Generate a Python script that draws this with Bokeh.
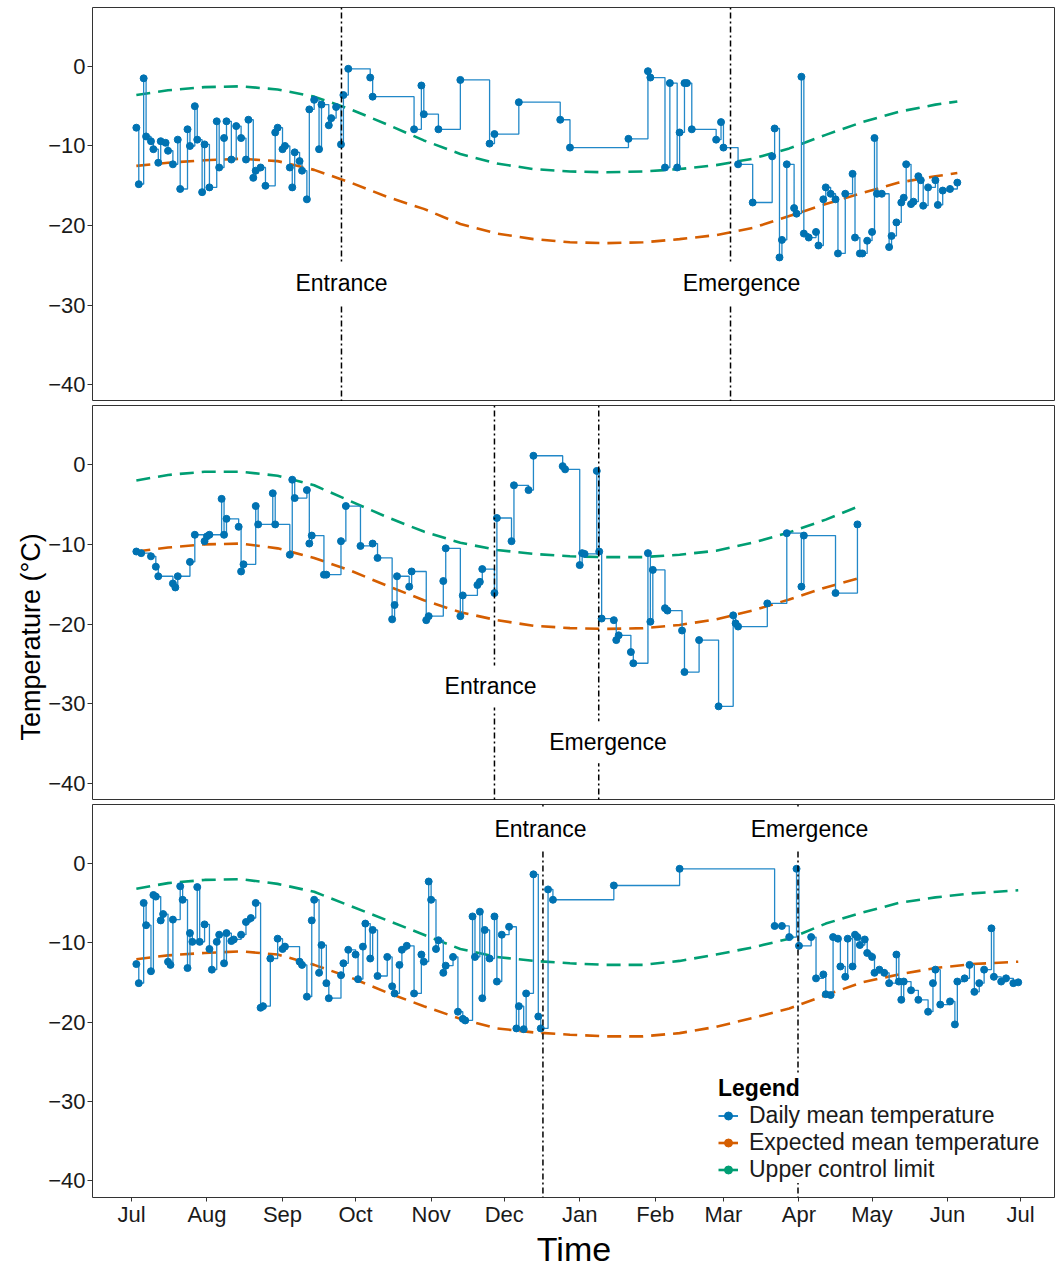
from bokeh.plotting import figure
from bokeh.models import Range1d, FixedTicker, Span, Label, Legend, LegendItem, ColumnDataSource, Title
from bokeh.layouts import column
from bokeh.embed import file_html
from bokeh.resources import INLINE

# ---------------- data ----------------
month_days = [0, 31, 62, 92, 123, 153, 184, 215, 243, 274, 304, 335, 365]
month_labels = ["Jul", "Aug", "Sep", "Oct", "Nov", "Dec", "Jan", "Feb", "Mar", "Apr", "May", "Jun", "Jul"]
y_ticks = [-40, -30, -20, -10, 0]
y_tick_labels = ["\u221240", "\u221230", "\u221220", "\u221210", "0"]

# (day since 1 Jul, daily mean temperature)
p1_obs = [(2,-7.7),(3,-14.8),(5,-1.5),(6,-8.8),(8,-9.4),(9,-10.4),(11,-12.1),(12,-9.4),(14,-9.6),(15,-10.6),
          (17,-12.3),(19,-9.2),(20,-15.4),(23,-7.9),(24,-10.0),(26,-5.0),(27,-9.2),(29,-15.8),(30,-9.8),(32,-15.2),
          (35,-6.9),(36,-12.7),(38,-9.0),(39,-6.9),(41,-11.7),(43,-7.5),(45,-9.0),(47,-11.7),(48,-6.7),(50,-14.0),
          (51,-13.1),(53,-12.7),(55,-15.0),(59,-8.3),(60,-7.7),(62,-10.4),(63,-10.0),(65,-12.7),(66,-15.2),(67,-10.8),
          (69,-11.9),(70,-13.1),(72,-16.7),(73,-5.4),(75,-4.2),(77,-10.4),(78,-4.8),(81,-7.4),(82,-6.5),(84,-5.1),
          (86,-9.8),(87,-3.6),(89,-0.3),(98,-1.4),(99,-3.8),(116,-7.9),(119,-2.4),(120,-6.0),(126,-7.9),(135,-1.7),
          (147,-9.7),(149,-8.5),(159,-4.5),(176,-6.7),(180,-10.2),(204,-9.1),(212,-0.6),(213,-1.4),(219,-12.7),(221,-2.1),
          (224,-12.7),(225,-8.3),(227,-2.1),(228,-2.1),(230,-7.9),(240,-9.2),(242,-7.0),(243,-10.2),(249,-12.3),(255,-17.1),
          (263,-11.3),(264,-7.8),(266,-24.0),(267,-21.8),(269,-12.3),(272,-17.8),(273,-18.5),(275,-1.3),(276,-21.0),(278,-21.5),
          (281,-20.8),(282,-22.5),(284,-16.7),(285,-15.2),(287,-16.0),(289,-16.7),(290,-23.5),(293,-16.0),(296,-13.5),(297,-21.5),
          (299,-23.5),(300,-23.5),(302,-21.9),(304,-20.8),(305,-9.0),(306,-16.0),(308,-16.0),(311,-22.7),(312,-21.3),(314,-19.6),
          (316,-17.1),(317,-16.5),(318,-12.3),(320,-17.3),(321,-17.0),(323,-13.8),(324,-14.3),(325,-17.5),(327,-15.2),(330,-14.3),
          (331,-17.4),(333,-15.6),(336,-15.4),(339,-14.6)]

p2_obs = [(2,-10.9),(4,-11.1),(8,-11.5),(10,-12.8),(11,-14.0),(17,-14.9),(18,-15.4),(19,-14.0),(24,-12.2),(26,-8.8),
          (30,-9.6),(31,-9.0),(32,-8.8),(37,-4.3),(38,-8.8),(39,-6.8),(44,-7.8),(45,-13.4),(46,-12.5),(51,-5.2),
          (52,-7.5),(58,-3.6),(59,-7.5),(65,-11.3),(66,-1.9),(67,-4.2),(72,-3.2),(73,-9.9),(74,-8.9),(79,-13.8),
          (80,-13.8),(86,-9.6),(88,-5.2),(94,-10.2),(99,-9.9),(101,-11.7),(107,-19.4),(108,-17.6),(109,-14.0),(114,-15.3),
          (115,-13.4),(121,-19.5),(122,-19.0),(128,-14.6),(129,-10.5),(135,-19.0),(136,-16.4),(142,-15.1),(143,-14.7),(144,-13.1),
          (149,-16.1),(150,-6.7),(156,-9.6),(157,-2.6),(163,-3.2),(165,1.1),(177,-0.2),(178,-0.6),(184,-12.6),(185,-11.1),
          (186,-11.2),(191,-0.8),(192,-10.9),(193,-19.3),(198,-19.5),(199,-22.0),(200,-21.4),(205,-23.5),(206,-24.9),(212,-11.1),
          (213,-19.7),(214,-13.2),(219,-18.0),(220,-18.3),(226,-20.8),(227,-26.0),(233,-22.0),(241,-30.3),(247,-18.9),(248,-19.9),
          (249,-20.3),(261,-17.4),(269,-8.6),(275,-15.3),(276,-8.9),(289,-16.1),(298,-7.5)]

p3_obs = [(2,-12.7),(3,-15.1),(5,-5.0),(6,-7.8),(8,-13.6),(9,-4.0),(10,-4.2),(12,-7.2),(13,-6.4),(15,-12.4),
          (16,-12.8),(17,-7.1),(20,-2.9),(21,-4.6),(23,-13.2),(24,-8.8),(25,-9.9),(27,-3.0),(28,-9.9),(30,-7.7),
          (32,-10.8),(33,-13.4),(35,-9.9),(36,-9.0),(38,-12.6),(39,-8.8),(41,-9.8),(42,-9.6),(45,-9.0),(47,-7.4),
          (49,-6.9),(51,-5.0),(53,-18.2),(54,-18.0),(57,-12.0),(60,-9.5),(62,-10.8),(63,-10.5),(69,-12.4),(70,-12.8),
          (72,-16.8),(74,-7.2),(75,-4.6),(77,-13.8),(78,-10.3),(80,-15.1),(81,-17.0),(86,-14.1),(87,-12.6),(89,-10.9),
          (92,-11.5),(93,-14.6),(95,-10.5),(96,-7.6),(98,-12.0),(99,-8.4),(101,-14.2),(105,-11.8),(107,-15.5),(108,-16.4),
          (110,-12.8),(111,-10.9),(113,-10.4),(116,-16.4),(119,-11.5),(120,-12.4),(122,-2.3),(123,-4.6),(125,-10.8),(126,-9.7),
          (128,-13.8),(129,-12.9),(132,-11.8),(134,-18.7),(136,-19.6),(137,-19.8),(140,-6.7),(141,-11.8),(143,-6.1),(144,-17.0),
          (145,-8.4),(147,-12.0),(149,-6.7),(150,-14.9),(152,-9.0),(155,-8.0),(158,-20.8),(159,-18.0),(161,-20.9),(162,-16.4),
          (165,-1.4),(167,-19.3),(168,-20.8),(171,-3.3),(173,-4.6),(198,-2.8),(225,-0.7),(264,-7.9),(267,-7.9),(270,-9.3),
          (273,-0.7),(274,-10.4),(279,-9.3),(281,-14.5),(284,-14.0),(285,-16.5),(287,-16.6),(288,-9.3),(290,-9.5),(291,-13.0),
          (293,-14.3),(294,-9.5),(296,-13.0),(297,-9.0),(298,-9.3),(299,-10.3),(301,-9.6),(302,-11.3),(304,-11.8),(305,-13.8),
          (307,-13.4),(309,-13.8),(311,-15.1),(314,-11.5),(315,-14.9),(316,-17.2),(317,-14.9),(320,-16.0),(323,-17.2),(327,-18.7),
          (329,-15.1),(330,-13.4),(332,-17.8),(336,-17.4),(338,-20.3),(339,-14.9),(342,-14.5),(344,-12.8),(346,-16.2),(348,-15.1),
          (350,-13.4),(353,-8.2),(354,-14.3),(357,-14.9),(359,-14.5),(362,-15.1),(364,-15.0)]

p1_curve_days = [2, 15, 30, 45, 60, 75, 90, 105, 120, 135, 150, 165, 180, 195, 210, 225, 240, 255, 270, 285, 300, 315, 330, 339]
p1_expected = [-12.5, -12.1, -11.8, -11.6, -11.9, -13.0, -14.6, -16.4, -17.9, -19.8, -21.0, -21.7, -22.1, -22.2, -22.1, -21.7,
               -21.2, -20.3, -18.8, -17.3, -15.9, -14.6, -13.8, -13.4]
p1_ucl = [-3.6, -3.0, -2.6, -2.5, -2.9, -3.8, -5.4, -7.3, -9.3, -11.0, -12.2, -12.9, -13.2, -13.3, -13.2, -12.9,
          -12.4, -11.6, -10.3, -8.6, -7.0, -5.7, -4.8, -4.4]

p2_curve_days = [2, 15, 30, 45, 60, 75, 90, 105, 120, 135, 150, 165, 180, 195, 210, 225, 240, 255, 270, 285, 298]
p2_expected = [-10.9, -10.4, -10.0, -9.9, -10.5, -11.7, -13.3, -15.2, -17.0, -18.5, -19.5, -20.2, -20.5, -20.6, -20.5,
               -20.1, -19.4, -18.3, -16.9, -15.4, -14.3]
p2_ucl = [-2.0, -1.3, -0.9, -0.9, -1.4, -2.6, -4.6, -6.6, -8.4, -9.8, -10.7, -11.2, -11.5, -11.6, -11.6,
          -11.3, -10.8, -9.8, -8.5, -6.9, -5.3]

p3_curve_days = [2, 15, 30, 45, 60, 75, 90, 105, 120, 135, 150, 165, 180, 195, 210, 225, 240, 255, 270, 285, 300, 315, 330, 345, 364]
p3_expected = [-12.1, -11.6, -11.3, -11.1, -11.5, -12.8, -14.4, -16.3, -18.0, -19.6, -20.8, -21.3, -21.6, -21.8, -21.8,
               -21.4, -20.6, -19.5, -18.3, -16.6, -15.0, -14.0, -13.2, -12.7, -12.4]
p3_ucl = [-3.2, -2.5, -2.1, -2.0, -2.6, -3.6, -5.4, -7.2, -9.0, -10.8, -11.8, -12.3, -12.6, -12.8, -12.8,
          -12.3, -11.5, -10.6, -9.5, -7.6, -6.2, -5.0, -4.3, -3.8, -3.4]

# hibernation entrance / emergence (day since 1 Jul)
p1_events = (86.2, 245.9)
p2_events = (149.0, 191.8)
p3_events = (168.9, 273.6)

# ---------------- style ----------------
FONT = "Liberation Sans"
BLUE = "#0072B2"
BLUE_LINE = "#2288c8"
ORANGE = "#D55E00"
GREEN = "#009E73"
TXT = "#1a1a1a"


def style_axis(ax):
    ax.axis_line_color = None
    ax.major_tick_line_color = "#333333"
    ax.major_tick_line_width = 1
    ax.major_tick_out = 5
    ax.major_tick_in = 0
    ax.minor_tick_line_color = None
    ax.major_label_text_font = FONT
    ax.major_label_text_font_size = "22px"
    ax.major_label_text_color = TXT
    ax.major_label_standoff = 2
    ax.axis_label_text_font = FONT
    ax.axis_label_text_font_size = "34px"
    ax.axis_label_text_font_style = "normal"
    ax.axis_label_text_color = "black"
    ax.axis_label_standoff = 0


def make_panel(obs, cdays, expected, ucl, events, labels, height, top, bottom, show_x=False):
    p = figure(width=1055, height=height, x_range=Range1d(-16, 379.3), y_range=Range1d(-42.1, 7.4),
               output_backend="svg", toolbar_location=None,
               min_border_left=92, min_border_right=0, min_border_top=top, min_border_bottom=bottom)
    p.background_fill_color = "white"
    p.border_fill_color = "white"
    p.outline_line_color = "#333333"
    p.outline_line_width = 1
    p.xgrid.visible = False
    p.ygrid.visible = False

    p.yaxis.ticker = FixedTicker(ticks=y_ticks)
    p.yaxis.major_label_overrides = dict(zip(y_ticks, y_tick_labels))
    style_axis(p.yaxis[0])

    if show_x:
        p.xaxis.ticker = FixedTicker(ticks=month_days)
        p.xaxis.major_label_overrides = dict(zip(month_days, month_labels))
        style_axis(p.xaxis[0])
        p.xaxis.major_tick_out = 4
        p.xaxis.major_label_standoff = 0
        p.xaxis.axis_label = "Time"
    else:
        p.xaxis.visible = False

    src = ColumnDataSource(dict(day=[d for d, _ in obs], temp=[t for _, t in obs]))
    p.line(cdays, expected, line_color=ORANGE, line_width=2.6, line_dash="14 8")
    p.line(cdays, ucl, line_color=GREEN, line_width=2.6, line_dash="14 8")
    p.step(x="day", y="temp", source=src, mode="after", line_color=BLUE_LINE, line_width=1.3)
    p.scatter(x="day", y="temp", source=src, size=7, fill_color=BLUE, line_color=BLUE)

    for d in events:
        p.add_layout(Span(location=d, dimension="height", line_color="black", line_width=1.5,
                          line_dash="2 3 6 3"))
    for text, lx, ly in labels:
        p.add_layout(Label(x=lx, y=ly, text=text, text_align="center", text_baseline="middle",
                           text_font=FONT, text_font_size="23px", text_color="black",
                           background_fill_color="white", background_fill_alpha=1.0, padding=8))
    return p, src


p1, _ = make_panel(p1_obs, p1_curve_days, p1_expected, p1_ucl, p1_events,
                   [("Entrance", 86.2, -27.25), ("Emergence", 250.4, -27.25)],
                   height=401, top=7, bottom=0)
p2, _ = make_panel(p2_obs, p2_curve_days, p2_expected, p2_ucl, p2_events,
                   [("Entrance", 147.4, -27.8), ("Emergence", 195.6, -34.8)],
                   height=399, top=4, bottom=0)
p3, src3 = make_panel(p3_obs, p3_curve_days, p3_expected, p3_ucl, p3_events,
                      [("Entrance", 167.9, 4.3), ("Emergence", 278.3, 4.3)],
                      height=470, top=4, bottom=70, show_x=True)

# shared y-axis title, in the left side panel of the middle plot
p2.add_layout(Title(text="Temperature (\u00b0C)", align="left", offset=60, standoff=0,
                    text_font=FONT, text_font_size="27px", text_font_style="normal",
                    text_color="black"), "left")

# legend keys: hidden copies of the series (solid short line + dot, like the original key)
k_obs_l = p3.line(x="day", y="temp", source=src3, line_color=BLUE_LINE, line_width=2, visible=False)
k_obs_p = p3.scatter(x="day", y="temp", source=src3, size=6, fill_color=BLUE, line_color=BLUE, visible=False)
k_exp_l = p3.line(p3_curve_days, p3_expected, line_color=ORANGE, line_width=2.6, visible=False)
k_exp_p = p3.scatter(p3_curve_days, p3_expected, size=6, fill_color=ORANGE, line_color=ORANGE, visible=False)
k_ucl_l = p3.line(p3_curve_days, p3_ucl, line_color=GREEN, line_width=2.6, visible=False)
k_ucl_p = p3.scatter(p3_curve_days, p3_ucl, size=6, fill_color=GREEN, line_color=GREEN, visible=False)

legend = Legend(items=[
    LegendItem(label="Daily mean temperature", renderers=[k_obs_l, k_obs_p]),
    LegendItem(label="Expected mean temperature", renderers=[k_exp_l, k_exp_p]),
    LegendItem(label="Upper control limit", renderers=[k_ucl_l, k_ucl_p]),
], location=(626, 14))
legend.title = "Legend"
legend.title_text_font = FONT
legend.title_text_font_style = "bold"
legend.title_text_font_size = "23px"
legend.title_text_color = "black"
legend.title_standoff = 0
legend.label_text_font = FONT
legend.label_text_font_size = "23px"
legend.label_text_color = TXT
legend.glyph_width = 20
legend.glyph_height = 27
legend.label_height = 27
legend.label_standoff = 11
legend.spacing = 0
legend.padding = 3
legend.margin = 0
legend.click_policy = "none"
legend.inactive_fill_alpha = 0
legend.border_line_color = None
legend.background_fill_color = "white"
legend.background_fill_alpha = 1.0
p3.add_layout(legend, "center")

layout = column(p1, p2, p3, spacing=0)

with open("out.html", "w") as f:
    f.write(file_html(layout, INLINE))
